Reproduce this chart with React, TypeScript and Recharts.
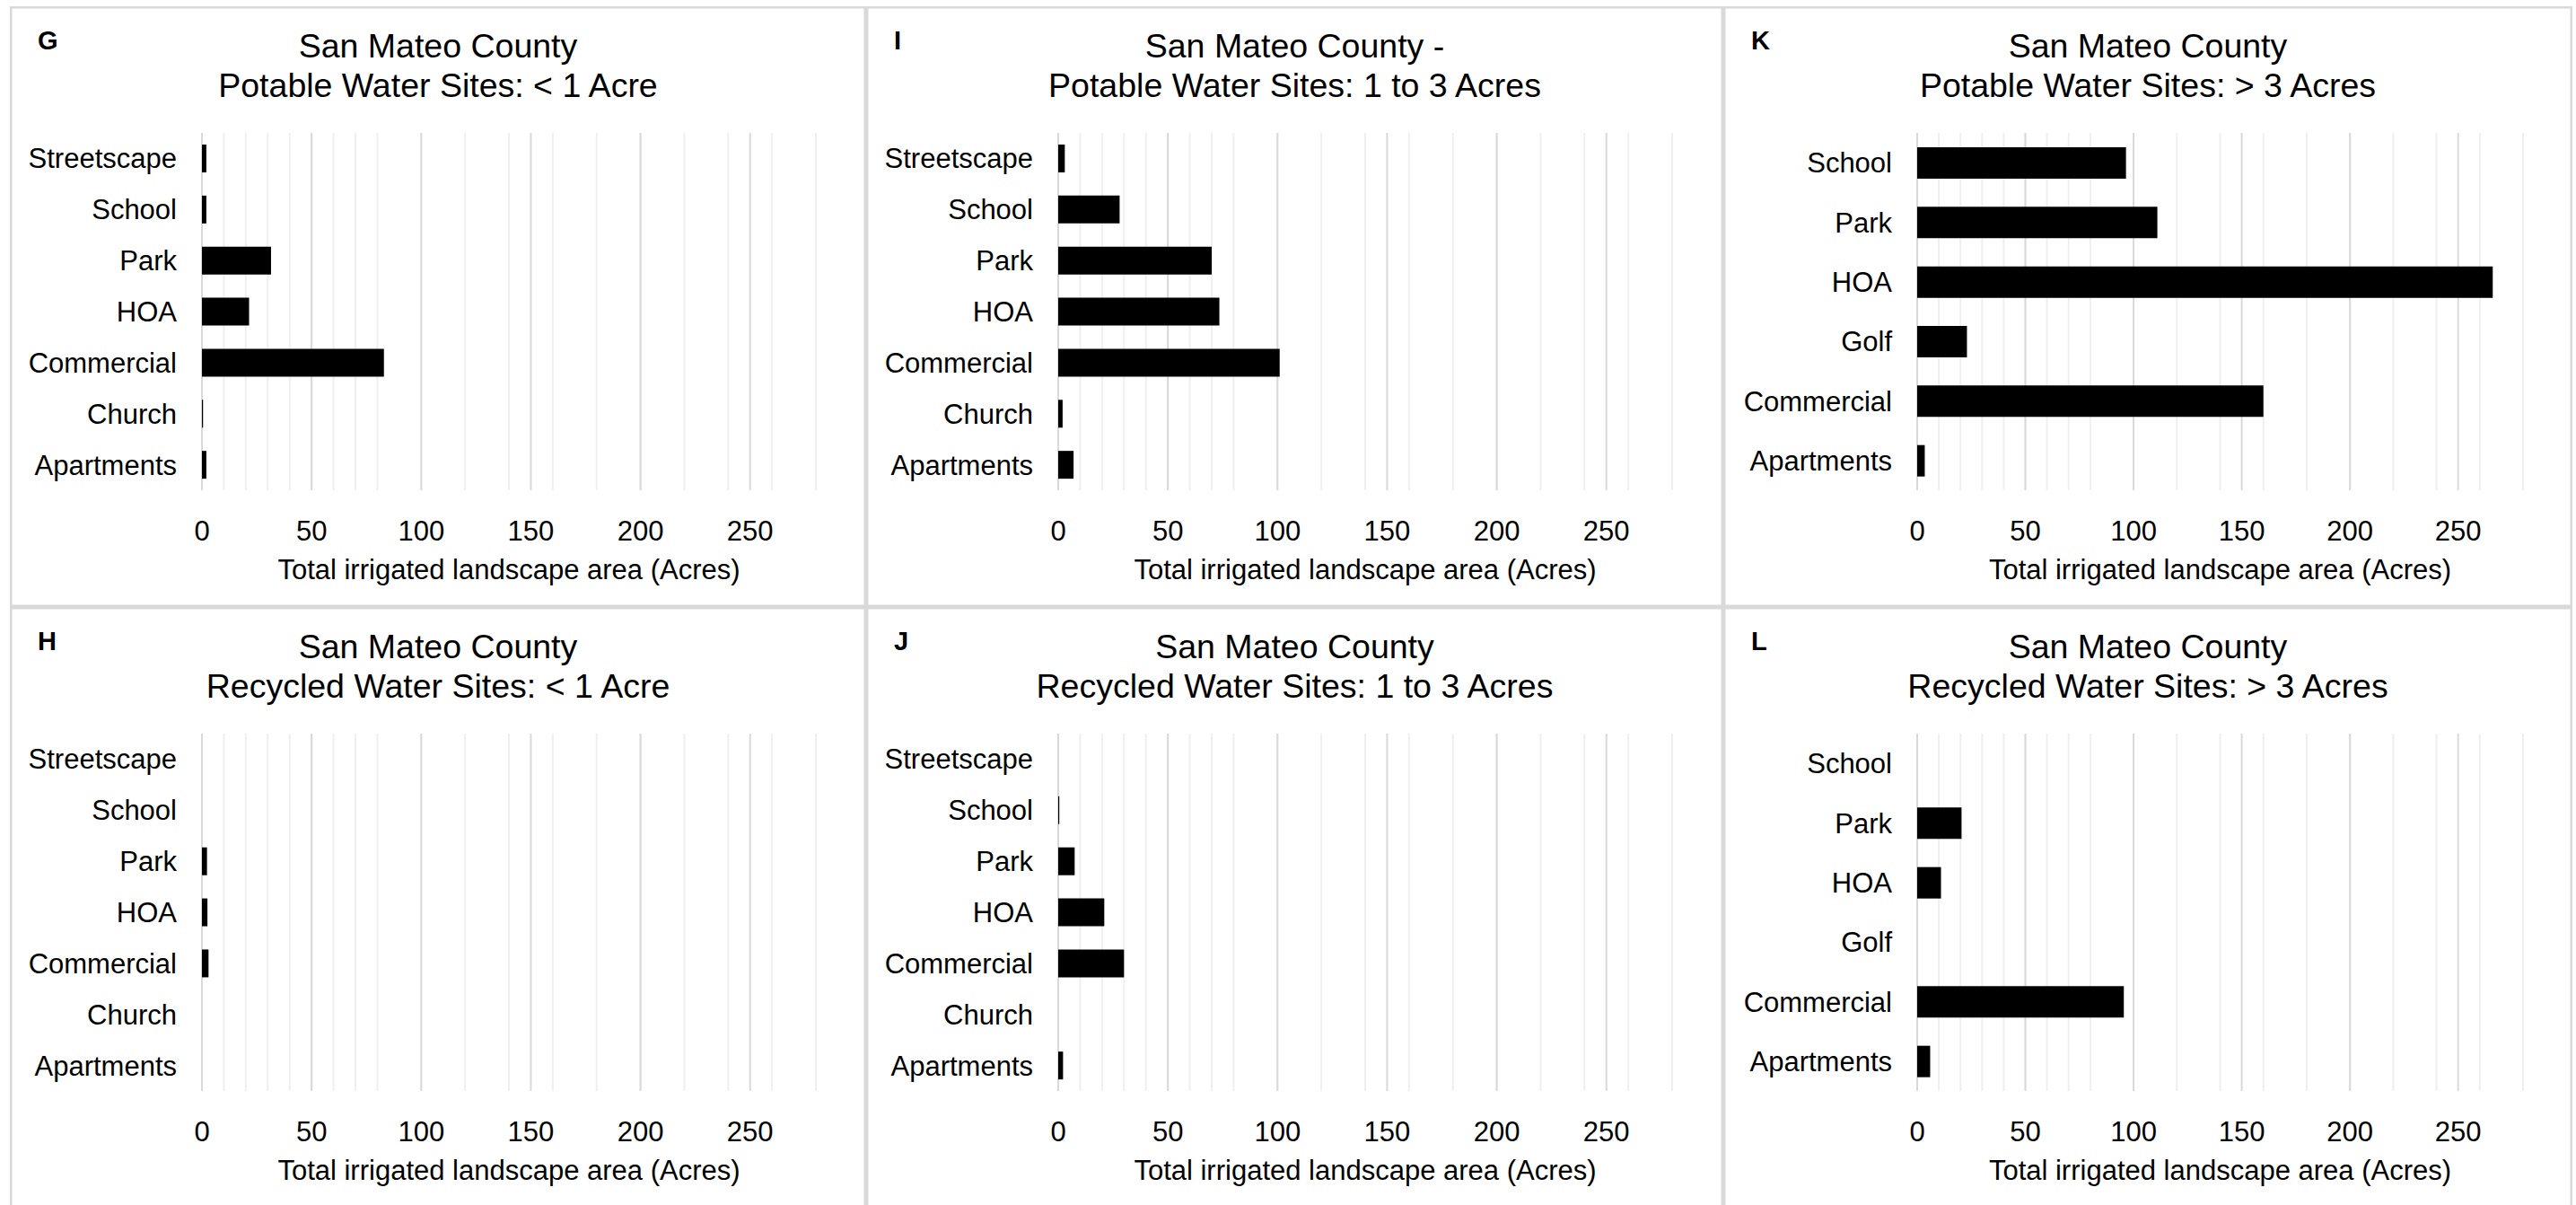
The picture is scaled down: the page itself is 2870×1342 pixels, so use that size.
import { BarChart, Bar, XAxis, YAxis, CartesianGrid } from "recharts";

// categories, top to bottom as drawn
const smallSiteUses = ["Streetscape", "School", "Park", "HOA", "Commercial", "Church", "Apartments"];
const largeSiteUses = ["School", "Park", "HOA", "Golf", "Commercial", "Apartments"];

// acres
const potableUnder1 = [2, 2, 31.5, 21.5, 83, 0.5, 2];
const potable1to3 = [3, 28, 70, 73.5, 101, 2, 7];
const potableOver3 = [96.5, 111, 266, 23, 160, 3.5];
const recycledUnder1 = [0, 0, 2.3, 2.5, 3, 0, 0];
const recycled1to3 = [0, 0.5, 7.5, 21, 30, 0, 2.2];
const recycledOver3 = [0, 20.5, 11, 0, 95.5, 6];

const xTicks = [0, 50, 100, 150, 200, 250];
const minorGrid = [0, 10, 20, 30, 40, 50, 60, 70, 80, 90, 100, 110, 120, 130, 140, 150, 160, 170, 180, 190, 200, 210, 220, 230, 240, 250, 260, 270, 280];
const xMax = 280;

const axisTitle = "Total irrigated landscape area (Acres)";
const county = "San Mateo County";

const FONT = '"Liberation Sans", Arial, sans-serif';
const COLS = [11, 965, 1920, 2866];
const ROWS = [7, 676, 1346];

type PanelProps = {
  col: number;
  row: number;
  letter: string;
  title1: string;
  title2: string;
  names: string[];
  values: number[];
};

function Panel({ col, row, letter, title1, title2, names, values }: PanelProps) {
  const left = COLS[col];
  const top = ROWS[row];
  const width = COLS[col + 1] - left;
  const height = ROWS[row + 1] - top;
  const data = names.map((name, i) => ({ name, value: values[i] }));
  const wide = col === 2;
  const plotLeft = wide ? 216 : 214;
  const span = wide ? 675 : 684;
  const barSize = names.length === 7 ? 31 : 35;

  return (
    <div
      style={{
        position: "absolute",
        left,
        top,
        width,
        height,
        boxShadow: "inset 0 0 0 2.5px #d9d9d9",
      }}
    >
      <div style={{ position: "absolute", left: 0, top: 0 }}>
        <BarChart
          width={width}
          height={660}
          data={data}
          layout="vertical"
          margin={{ top: 141, right: width - plotLeft - span, left: 0, bottom: 61 }}
          style={{ fontFamily: FONT }}
        >
          <CartesianGrid horizontal={false} verticalValues={minorGrid} stroke="#efefef" strokeWidth={2} />
          <CartesianGrid horizontal={false} verticalValues={xTicks} stroke="#d9d9d9" strokeWidth={2} />
          <XAxis
            type="number"
            domain={[0, xMax]}
            ticks={xTicks}
            axisLine={false}
            tickLine={false}
            tickSize={0}
            tickMargin={34}
            height={60}
            tick={{ fontSize: 31, fill: "#000", fontFamily: FONT }}
            label={{ value: axisTitle, position: "bottom", offset: 17, fontSize: 31, fill: "#000", fontFamily: FONT }}
          />
          <YAxis
            type="category"
            dataKey="name"
            width={plotLeft}
            axisLine={false}
            tickLine={false}
            tickSize={0}
            tickMargin={28}
            interval={0}
            tick={{ fontSize: 31, fill: "#000", fontFamily: FONT }}
          />
          <Bar dataKey="value" fill="#000" barSize={barSize} isAnimationActive={false} />
        </BarChart>
      </div>
      <svg width={width} height={120} style={{ position: "absolute", left: 0, top: 0 }}>
        <text x={31} y={48} fontFamily={FONT} fontWeight="bold" fontSize={29} fill="#000">
          {letter}
        </text>
        <text x={width / 2} y={57} textAnchor="middle" fontFamily={FONT} fontSize={37.5} fill="#000">
          {title1}
        </text>
        <text x={width / 2} y={101} textAnchor="middle" fontFamily={FONT} fontSize={37.5} fill="#000">
          {title2}
        </text>
      </svg>
    </div>
  );
}

export default function App() {
  return (
    <div
      style={{
        position: "absolute",
        left: 0,
        top: 0,
        width: 2870,
        height: 1342,
        overflow: "hidden",
        background: "#fff",
      }}
    >
      <Panel col={0} row={0} letter="G" title1={county} title2="Potable Water Sites: < 1 Acre" names={smallSiteUses} values={potableUnder1} />
      <Panel col={1} row={0} letter="I" title1={county + " -"} title2="Potable Water Sites: 1 to 3 Acres" names={smallSiteUses} values={potable1to3} />
      <Panel col={2} row={0} letter="K" title1={county} title2="Potable Water Sites: > 3 Acres" names={largeSiteUses} values={potableOver3} />
      <Panel col={0} row={1} letter="H" title1={county} title2="Recycled Water Sites: < 1 Acre" names={smallSiteUses} values={recycledUnder1} />
      <Panel col={1} row={1} letter="J" title1={county} title2="Recycled Water Sites: 1 to 3 Acres" names={smallSiteUses} values={recycled1to3} />
      <Panel col={2} row={1} letter="L" title1={county} title2="Recycled Water Sites: > 3 Acres" names={largeSiteUses} values={recycledOver3} />
    </div>
  );
}
